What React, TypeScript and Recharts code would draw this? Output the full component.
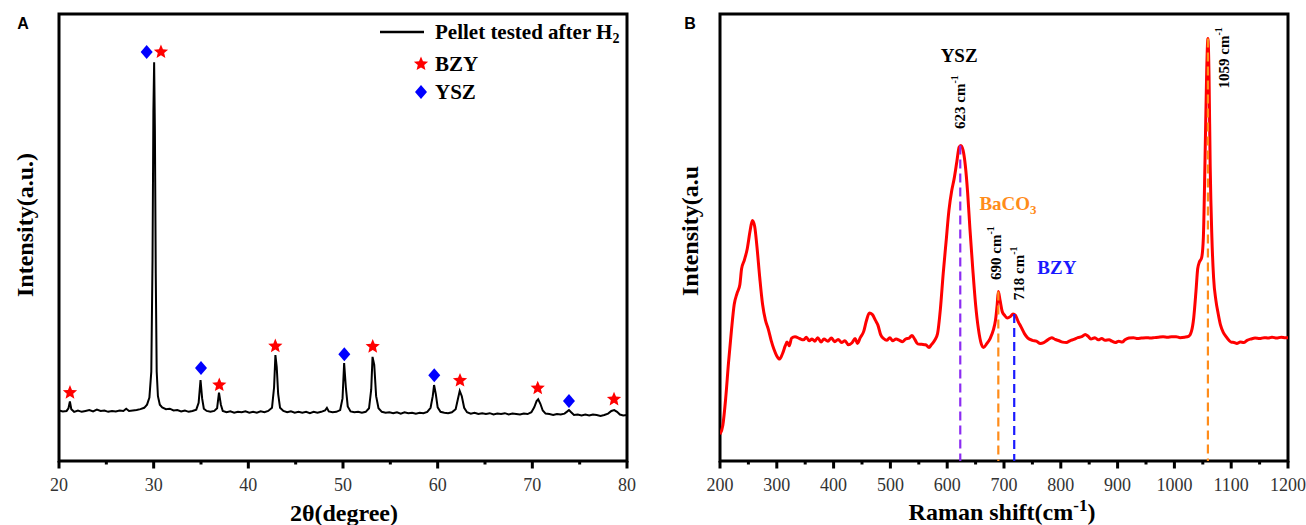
import React from "react";
import {
  ComposedChart,
  Line,
  Scatter,
  XAxis,
  YAxis,
  ReferenceArea,
  ReferenceLine,
  ReferenceDot,
} from "recharts";

const SERIF = "'Liberation Serif', 'Times New Roman', serif";
const SANS = "'Liberation Sans', Arial, sans-serif";

// ---------- panel A : XRD ----------
const xrdTicks = [20, 25, 30, 35, 40, 45, 50, 55, 60, 65, 70, 75, 80];
const xrdMajor = [20, 30, 40, 50, 60, 70, 80];

// [2theta, intensity]
const xrdPattern: [number, number][] = [
  [20.0, 11.3], [20.4, 11.1], [20.8, 11.2], [21.0, 11.8], [21.15, 13.3], [21.3, 11.6], [21.6, 11.0],
  [22.0, 11.3], [22.4, 11.0], [22.8, 11.2], [23.2, 11.4], [23.6, 11.1], [24.0, 11.5], [24.4, 11.2],
  [24.8, 11.3], [25.2, 11.0], [25.6, 11.2], [26.0, 11.1], [26.4, 11.3], [26.8, 11.2], [27.1, 11.7],
  [27.4, 11.2], [27.8, 11.3], [28.2, 11.4], [28.6, 11.6], [29.0, 11.9], [29.3, 12.6], [29.55, 14.2],
  [29.75, 20], [29.88, 45], [29.97, 78], [30.05, 89.2], [30.13, 74], [30.22, 42], [30.32, 20],
  [30.45, 14.5], [30.65, 12.6], [30.9, 12.0], [31.3, 11.6], [31.7, 11.7], [32.1, 11.3], [32.5, 11.4],
  [32.9, 11.1], [33.3, 11.3], [33.7, 11.0], [34.1, 11.2], [34.5, 11.5], [34.75, 13.0], [34.95, 18.1],
  [35.12, 14.0], [35.3, 11.7], [35.6, 11.2], [36.0, 11.0], [36.4, 11.2], [36.7, 11.8], [36.9, 15.3],
  [37.1, 12.6], [37.3, 11.2], [37.7, 10.9], [38.1, 11.1], [38.5, 10.8], [38.9, 11.0], [39.3, 10.9],
  [39.7, 11.1], [40.1, 10.8], [40.5, 11.0], [40.9, 10.8], [41.3, 11.1], [41.7, 10.9], [42.1, 11.2],
  [42.5, 11.9], [42.72, 16.5], [42.86, 23.7], [43.0, 21], [43.15, 15], [43.35, 11.9], [43.7, 11.2],
  [44.1, 10.9], [44.5, 11.1], [44.9, 10.8], [45.3, 11.0], [45.7, 10.8], [46.1, 11.0], [46.5, 10.7],
  [46.9, 11.0], [47.3, 10.8], [47.7, 11.0], [48.1, 11.3], [48.3, 11.9], [48.5, 11.1], [48.9, 10.9],
  [49.3, 11.0], [49.7, 11.4], [49.95, 14], [50.12, 21.9], [50.3, 16.5], [50.5, 12.2], [50.8, 11.1],
  [51.2, 10.9], [51.6, 11.0], [52.0, 10.8], [52.4, 11.0], [52.75, 11.8], [52.98, 16], [53.12, 23.3],
  [53.3, 21.5], [53.5, 14.5], [53.75, 11.8], [54.1, 11.0], [54.5, 10.8], [54.9, 10.9], [55.3, 10.7],
  [55.7, 10.9], [56.1, 10.6], [56.5, 10.9], [56.9, 10.7], [57.3, 10.8], [57.7, 10.6], [58.1, 10.8],
  [58.5, 10.7], [58.9, 11.0], [59.25, 11.9], [59.48, 14.5], [59.62, 17.0], [59.8, 15.0], [60.0, 12.0],
  [60.3, 11.0], [60.7, 10.8], [61.1, 10.7], [61.5, 10.9], [61.9, 11.6], [62.15, 14.0], [62.33, 15.7],
  [62.55, 14.5], [62.8, 11.9], [63.1, 10.9], [63.5, 10.6], [63.9, 10.8], [64.3, 10.5], [64.7, 10.7],
  [65.1, 10.5], [65.5, 10.7], [65.9, 10.4], [66.3, 10.6], [66.7, 10.5], [67.1, 10.7], [67.5, 10.4],
  [67.9, 10.6], [68.3, 10.5], [68.7, 10.4], [69.1, 10.6], [69.5, 10.5], [69.9, 10.9], [70.2, 12.0],
  [70.45, 13.4], [70.62, 13.8], [70.85, 12.8], [71.1, 11.3], [71.4, 10.6], [71.8, 10.5], [72.2, 10.3],
  [72.6, 10.5], [73.0, 10.4], [73.4, 10.6], [73.7, 11.1], [73.87, 11.4], [74.1, 10.9], [74.4, 10.3],
  [74.8, 10.4], [75.2, 10.2], [75.6, 10.4], [76.0, 10.2], [76.4, 10.4], [76.8, 10.3], [77.2, 10.1],
  [77.6, 10.3], [78.0, 10.6], [78.35, 11.2], [78.65, 11.4], [78.95, 11.0], [79.25, 10.4], [79.6, 10.2],
  [80.0, 10.3],
];

// phase markers [2theta, height]
const bzyMarks: [number, number][] = [
  [21.16, 15.3], [30.77, 91.5], [36.93, 17.0], [42.85, 25.7], [53.14, 25.6], [62.36, 18.0], [70.57, 16.3], [78.63, 13.8],
];
const yszMarks: [number, number][] = [
  [29.26, 91.5], [35.0, 20.8], [50.14, 23.9], [59.64, 19.2], [73.87, 13.4],
];

// ---------- panel B : Raman ----------
const ramanTicks = [200, 250, 300, 350, 400, 450, 500, 550, 600, 650, 700, 750, 800, 850, 900, 950, 1000, 1050, 1100, 1150, 1200];
const ramanMajor = [200, 300, 400, 500, 600, 700, 800, 900, 1000, 1100, 1200];

// [raman shift, intensity]
const ramanSpectrum: [number, number][] = [
  [200, 6.0], [205, 8], [210, 14], [215, 22], [220, 29], [225, 35], [230, 37.5], [235, 39.5], [238, 43],
  [243, 45], [248, 47.5], [253, 51.5], [257, 53.8], [261, 52.5], [265, 48], [270, 41], [275, 35],
  [280, 31.5], [285, 29.5], [290, 27], [295, 25], [300, 23.5], [305, 22.8], [310, 24], [315, 25.8],
  [318, 26.6], [322, 25.8], [326, 27.5], [332, 27.8], [340, 27.4], [347, 27.1], [352, 27.7], [357, 26.9],
  [362, 27.3], [367, 26.8], [372, 27.6], [378, 26.6], [383, 27.3], [390, 26.8], [396, 27.5], [402, 26.7],
  [408, 27.2], [414, 26.5], [420, 26.9], [426, 26.0], [432, 26.4], [438, 27.4], [442, 26.3], [447, 27.6],
  [453, 29.0], [458, 31.5], [463, 33.1], [468, 32.8], [474, 31.4], [478, 30.4], [483, 28.2], [488, 27.4],
  [494, 27.0], [499, 27.6], [504, 26.9], [510, 27.3], [516, 27.0], [521, 26.7], [527, 27.3], [533, 27.5],
  [538, 28.1], [543, 27.2], [548, 26.2], [555, 26.1], [562, 26.0], [568, 25.4], [572, 26.0], [578, 27.0],
  [583, 28.5], [588, 34], [593, 42], [598, 49], [603, 56], [608, 60.5], [612, 63], [617, 67], [621, 70.2],
  [624, 70.6], [628, 69.5], [632, 66], [636, 60], [640, 52], [645, 43], [650, 35], [655, 29.5], [660, 26.2],
  [664, 25.4], [670, 26.3], [676, 27.5], [681, 29.2], [685, 31.5], [688, 35], [690, 37.9], [693, 36],
  [697, 33.4], [701, 32.6], [706, 32.0], [711, 32.3], [716, 32.9], [720, 32.6], [725, 31.2], [730, 30.0],
  [736, 28.5], [742, 27.5], [750, 27.0], [757, 26.8], [764, 26.3], [770, 26.5], [777, 27.1], [784, 27.6],
  [790, 27.2], [797, 26.9], [803, 26.6], [810, 26.5], [816, 26.9], [823, 27.2], [830, 27.6], [837, 27.8],
  [843, 28.3], [848, 27.9], [853, 27.3], [860, 27.6], [866, 27.1], [872, 27.4], [878, 27.0], [885, 27.1],
  [890, 26.8], [896, 26.5], [902, 26.8], [908, 26.6], [913, 27.1], [920, 27.5], [928, 27.6], [935, 27.4],
  [942, 27.5], [950, 27.6], [958, 27.5], [965, 27.6], [972, 27.7], [980, 27.8], [988, 27.7], [995, 27.8],
  [1003, 27.8], [1010, 27.6], [1018, 27.7], [1025, 27.9], [1030, 29], [1034, 32], [1038, 38], [1041, 43],
  [1044, 44.5], [1048, 45.5], [1051, 50], [1054, 68], [1057, 88], [1059, 94.5], [1061, 86], [1063, 66],
  [1066, 50], [1069, 41], [1073, 36], [1077, 33], [1081, 30.5], [1086, 28.8], [1091, 27.8], [1096, 27.0],
  [1100, 26.6], [1105, 26.5], [1110, 26.3], [1116, 26.6], [1122, 26.5], [1128, 27.0], [1135, 27.3],
  [1142, 27.5], [1150, 27.4], [1158, 27.6], [1165, 27.5], [1172, 27.7], [1180, 27.5], [1188, 27.7],
  [1195, 27.6], [1200, 27.6],
];

// assigned bands and the intensity at their maximum
const bandShifts = [623, 690, 718, 1059];
const bandTops = [70.6, 37.9, 32.9, 94.5];
const bandColors = ["#8c2cf2", "#ff8c1a", "#1a1aff", "#ff8c1a"];

// annotation anchors in data units
const phaseNotes = [
  { text: "YSZ", x: 621, y: 90.8, color: "#000" },
  { text: "BaCO", sub: "3", x: 707, y: 57.7, color: "#ff8c1a" },
  { text: "BZY", x: 793, y: 43.2, color: "#1a1aff" },
];
const bandNotes = [
  { text: "623 cm", x: 623, y: 80.3 },
  { text: "690 cm", x: 686, y: 46.5 },
  { text: "718 cm", x: 726, y: 42 },
  { text: "1059 cm", x: 1087, y: 90.2 },
];

const toXY = (pts: [number, number][]) => pts.map(([x, y]) => ({ x, y }));

function starPath(cx: number, cy: number, R: number) {
  const r = R * 0.45;
  let d = "";
  for (let i = 0; i < 10; i++) {
    const rad = i % 2 === 0 ? R : r;
    const a = -Math.PI / 2 + (i * Math.PI) / 5;
    d += `${i === 0 ? "M" : "L"}${cx + rad * Math.cos(a)},${cy + rad * Math.sin(a)}`;
  }
  return d + "Z";
}

const Star = (p: any) => <path d={starPath(p.cx, p.cy, 7.5)} fill="#ff0000" />;
const Diamond = (p: any) => (
  <path d={`M${p.cx},${p.cy - 7}L${p.cx + 6},${p.cy}L${p.cx},${p.cy + 7}L${p.cx - 6},${p.cy}Z`} fill="#0000ff" />
);

const makeTick = (majors: number[]) => (props: any) => {
  const { x, y, payload } = props;
  const major = majors.includes(payload.value);
  return (
    <g>
      <line x1={x} x2={x} y1={y} y2={y + (major ? 7.5 : 3.5)} stroke="#000" strokeWidth={3} />
      {major && (
        <text x={x} y={y + 30} textAnchor="middle" fontFamily={SERIF} fontSize={18} fill="#333">
          {payload.value}
        </text>
      )}
    </g>
  );
};

const overlay: React.CSSProperties = { position: "absolute", left: 0, top: 0, pointerEvents: "none" };

function XrdPanel() {
  return (
    <div style={{ position: "absolute", left: 0, top: 0, width: 660, height: 525 }}>
      <ComposedChart width={660} height={525} data={toXY(xrdPattern)} margin={{ top: 14, right: 33, bottom: 24, left: 59 }}>
        <XAxis
          type="number"
          dataKey="x"
          domain={[20, 80]}
          ticks={xrdTicks}
          interval={0}
          allowDataOverflow
          axisLine={false}
          tickLine={false}
          tickSize={0}
          tickMargin={0}
          height={40}
          tick={makeTick(xrdMajor)}
        />
        <YAxis type="number" domain={[0, 100]} hide allowDataOverflow />
        <Line dataKey="y" type="linear" stroke="#000" strokeWidth={2} dot={false} isAnimationActive={false} />
        <Scatter data={toXY(bzyMarks)} dataKey="y" shape={Star} isAnimationActive={false} />
        <Scatter data={toXY(yszMarks)} dataKey="y" shape={Diamond} isAnimationActive={false} />
        <ReferenceArea x1={20} x2={80} y1={0} y2={100} fill="none" fillOpacity={0} stroke="#000" strokeWidth={3} />
      </ComposedChart>
      <svg width={660} height={525} style={overlay}>
        <text x={23} y={29} textAnchor="middle" fontFamily={SANS} fontWeight={700} fontSize={16}>A</text>
        <text transform="translate(25,225) rotate(-90)" textAnchor="middle" dominantBaseline="central"
          fontFamily={SERIF} fontWeight={700} fontSize={24}>Intensity(a.u.)</text>
        <text x={344} y={521} textAnchor="middle" fontFamily={SERIF} fontWeight={700} fontSize={24}>2θ(degree)</text>
        <line x1={380} x2={424} y1={32} y2={32} stroke="#000" strokeWidth={2.5} />
        <text x={435} y={32} dominantBaseline="central" fontFamily={SERIF} fontWeight={700} fontSize={21}>
          Pellet tested after H<tspan dy={6} fontSize={14}>2</tspan>
        </text>
        <Star cx={421} cy={64} />
        <text x={435} y={64} dominantBaseline="central" fontFamily={SERIF} fontWeight={700} fontSize={21}>BZY</text>
        <Diamond cx={421} cy={92} />
        <text x={435} y={92} dominantBaseline="central" fontFamily={SERIF} fontWeight={700} fontSize={21}>YSZ</text>
      </svg>
    </div>
  );
}

function RamanPanel() {
  return (
    <div style={{ position: "absolute", left: 660, top: 0, width: 646, height: 525 }}>
      <ComposedChart width={646} height={525} data={toXY(ramanSpectrum)} margin={{ top: 14, right: 18, bottom: 24, left: 60 }}>
        <XAxis
          type="number"
          dataKey="x"
          domain={[200, 1200]}
          ticks={ramanTicks}
          interval={0}
          allowDataOverflow
          axisLine={false}
          tickLine={false}
          tickSize={0}
          tickMargin={0}
          height={40}
          tick={makeTick(ramanMajor)}
        />
        <YAxis type="number" domain={[0, 100]} hide allowDataOverflow />
        <Line dataKey="y" type="monotone" stroke="#ff0000" strokeWidth={3} dot={false} isAnimationActive={false} />
        {bandShifts.map((s, i) => (
          <ReferenceLine
            key={s}
            segment={[{ x: s, y: bandTops[i] }, { x: s, y: 0 }]}
            stroke={bandColors[i]}
            strokeWidth={2.2}
            strokeDasharray="9 5"
          />
        ))}
        {phaseNotes.map((n) => (
          <ReferenceDot
            key={n.text}
            x={n.x}
            y={n.y}
            shape={(p: any) => (
              <text x={p.cx} y={p.cy} textAnchor="middle" dominantBaseline="central" fill={n.color}
                fontFamily={SERIF} fontWeight={700} fontSize={19}>
                {n.text}
                {n.sub && <tspan dy={6} fontSize={13}>{n.sub}</tspan>}
              </text>
            )}
          />
        ))}
        {bandNotes.map((n) => (
          <ReferenceDot
            key={n.text}
            x={n.x}
            y={n.y}
            shape={(p: any) => (
              <text x={p.cx} y={p.cy} transform={`rotate(-90 ${p.cx} ${p.cy})`} textAnchor="middle"
                dominantBaseline="central" fontFamily={SERIF} fontWeight={700} fontSize={15} fill="#000">
                {n.text}
                <tspan dy={-6} fontSize={10}>-1</tspan>
              </text>
            )}
          />
        ))}
        <ReferenceArea x1={200} x2={1200} y1={0} y2={100} fill="none" fillOpacity={0} stroke="#000" strokeWidth={3} />
      </ComposedChart>
      <svg width={646} height={525} style={overlay}>
        <text x={30} y={29} textAnchor="middle" fontFamily={SANS} fontWeight={700} fontSize={16}>B</text>
        <text transform="translate(30,231) rotate(-90)" textAnchor="middle" dominantBaseline="central"
          fontFamily={SERIF} fontWeight={700} fontSize={24}>Intensity(a.u</text>
        <text x={342} y={520} textAnchor="middle" fontFamily={SERIF} fontWeight={700} fontSize={24}>
          Raman shift(cm<tspan dy={-9} fontSize={17}>-1</tspan><tspan dy={9}>)</tspan>
        </text>
      </svg>
    </div>
  );
}

export default function App() {
  return (
    <div style={{ position: "absolute", left: 0, top: 0, width: 1306, height: 525, background: "#fff", overflow: "hidden" }}>
      <XrdPanel />
      <RamanPanel />
    </div>
  );
}
